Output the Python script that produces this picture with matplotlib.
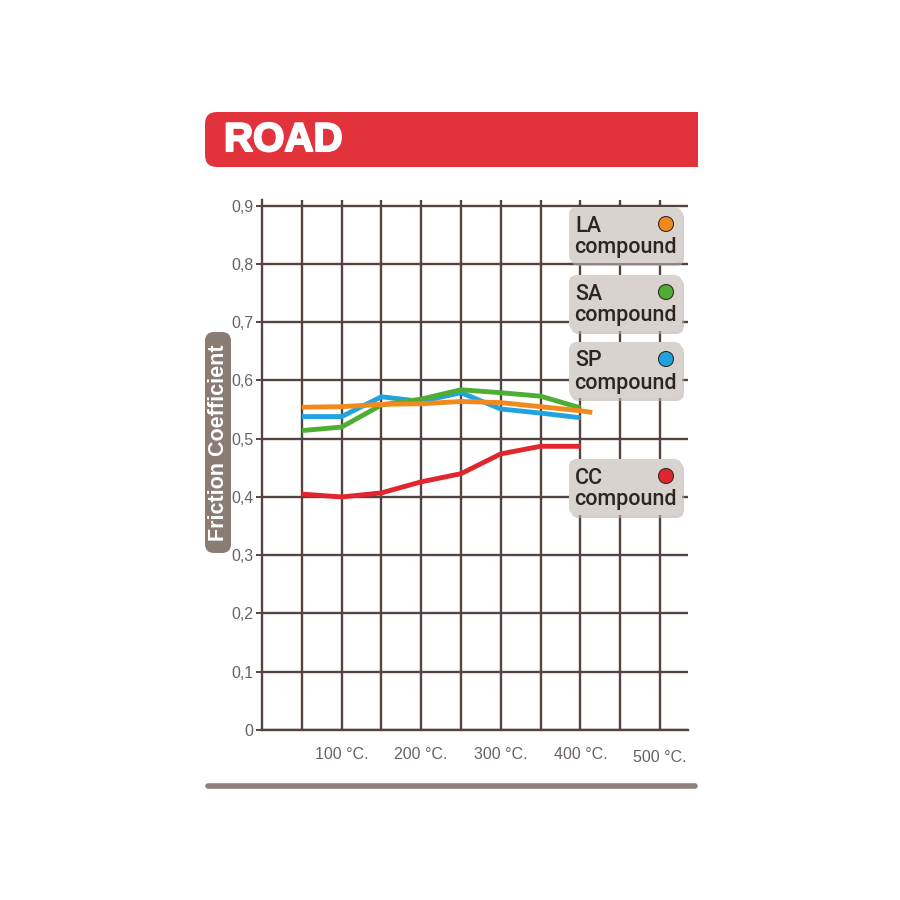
import matplotlib
matplotlib.use("Agg")
import matplotlib.pyplot as plt
from matplotlib.patches import FancyBboxPatch, Rectangle, Circle
from matplotlib.lines import Line2D
import matplotlib.patheffects as pe

# ---- data ----
temps = [50, 100, 150, 200, 250, 300, 350, 400]
temps_la = [50, 100, 150, 200, 250, 300, 350, 400, 415]
la_values = [0.554, 0.555, 0.559, 0.560, 0.564, 0.562, 0.555, 0.548, 0.545]
sa_values = [0.514, 0.520, 0.558, 0.568, 0.584, 0.579, 0.573, 0.553]
sp_values = [0.538, 0.538, 0.572, 0.564, 0.579, 0.551, 0.544, 0.536]
cc_values = [0.405, 0.400, 0.407, 0.426, 0.440, 0.474, 0.487, 0.487]
y_ticks = [0, 0.1, 0.2, 0.3, 0.4, 0.5, 0.6, 0.7, 0.8, 0.9]
y_labels = ["0", "0,1", "0,2", "0,3", "0,4", "0,5", "0,6", "0,7", "0,8", "0,9"]
x_grid = [50, 100, 150, 200, 250, 300, 350, 400, 450, 500]
x_labels = ["", "100 °C.", "", "200 °C.", "", "300 °C.", "", "400 °C.", "", "500 °C."]
legend_names = ["LA", "SA", "SP", "CC"]
title = "ROAD"
ylabel = "Friction Coefficient"

colors = {"LA": "#F08A1E", "SA": "#4EAE34", "SP": "#21A3DF", "CC": "#E2262E"}
grid_c = "#54443F"

W = H = 900
fig = plt.figure(figsize=(9, 9), dpi=100)
fig.patch.set_facecolor("white")

def fx(px):
    return px / W

def fy(py):
    return 1 - py / H

# axes placement
ax_l, ax_r, ax_b, ax_t = 262, 688, 730, 200
ax = fig.add_axes([fx(ax_l), fy(ax_b), fx(ax_r - ax_l), (ax_b - ax_t) / H])
ax.set_facecolor("none")
px_per_deg = (660 - 262) / 500.0
px_per_unit = (730 - 205.7) / 0.9
ax.set_xlim(0, (ax_r - ax_l) / px_per_deg)
ax.set_ylim(0, (ax_b - ax_t) / px_per_unit)

for s in ["top", "right"]:
    ax.spines[s].set_visible(False)
for s in ["left", "bottom"]:
    ax.spines[s].set_color(grid_c)
    ax.spines[s].set_linewidth(1.7)

ax.set_xticks(x_grid)
ax.set_xticklabels(x_labels)
ax.set_yticks(y_ticks)
ax.set_yticklabels(y_labels)
ax.tick_params(axis="x", length=0, pad=12, labelsize=11.5, labelcolor="#6A6260")
ax.tick_params(axis="y", length=4, width=1.4, color=grid_c, pad=2,
               labelsize=11.5, labelcolor="#6A6260")
for lab in ax.get_xticklabels() + ax.get_yticklabels():
    lab.set_fontfamily("Liberation Sans")
ax.get_xticklabels()[-1].set_y(-0.006)
ax.grid(True, color=grid_c, linewidth=1.7)
ax.set_axisbelow(True)

lw = 3.5
ax.plot(temps, cc_values, color=colors["CC"], lw=lw, solid_capstyle="butt", zorder=3)
ax.plot(temps, sp_values, color=colors["SP"], lw=lw, solid_capstyle="butt", zorder=4)
ax.plot(temps, sa_values, color=colors["SA"], lw=lw, solid_capstyle="butt", zorder=5)
ax.plot(temps_la, la_values, color=colors["LA"], lw=lw, solid_capstyle="butt", zorder=6)

# title bar
rad = 12
fig.add_artist(FancyBboxPatch((fx(205), fy(167)), fx(698 - 205), (167 - 112) / H,
                              boxstyle=f"round,pad=0,rounding_size={rad / W}",
                              transform=fig.transFigure, fc="#E2323C", ec="none", zorder=1))
fig.add_artist(Rectangle((fx(400), fy(167)), fx(698 - 400), (167 - 112) / H,
                         transform=fig.transFigure, fc="#E2323C", ec="none", zorder=1))
fig.text(fx(224), fy(140), title, color="white", fontsize=29, fontweight="bold",
         family="Liberation Sans", ha="left", va="center", zorder=2,
         path_effects=[pe.withStroke(linewidth=1.5, foreground="white")])

# y label box
fig.add_artist(FancyBboxPatch((fx(205), fy(553)), fx(231 - 205), (553 - 332) / H,
                              boxstyle=f"round,pad=0,rounding_size={9 / W}",
                              transform=fig.transFigure, fc="#8A7B73", ec="none", zorder=1))
fig.text(fx(218.5), fy(443), ylabel, rotation=90, color="white", fontsize=15.5,
         fontweight="bold", family="Liberation Sans", ha="center", va="center", zorder=2)

# legend boxes
box_tops = [207, 275, 342, 459]
bx0, bx1, bh = 569, 682, 56
for name, top in zip(legend_names, box_tops):
    fig.add_artist(FancyBboxPatch((fx(bx0 + 2), fy(top + bh + 3)), fx(bx1 - bx0), bh / H,
                                  boxstyle=f"round,pad=0,rounding_size={8 / W}",
                                  transform=fig.transFigure, fc="#B9B1AC", ec="none",
                                  alpha=0.6, zorder=10))
    fig.add_artist(FancyBboxPatch((fx(bx0), fy(top + bh)), fx(bx1 - bx0), bh / H,
                                  boxstyle=f"round,pad=0,rounding_size={8 / W}",
                                  transform=fig.transFigure, fc="#D8D3CF", ec="none",
                                  zorder=11))
    fig.text(fx(575), fy(top + 19), name, color="#2B2523", fontsize=15.5,
             family="Roboto", fontweight="medium", ha="left", va="center", zorder=12)
    fig.text(fx(574), fy(top + 41), "compound", color="#2B2523", fontsize=15.5,
             family="Roboto", fontweight="medium", ha="left", va="center", zorder=12)
    fig.add_artist(Circle((fx(666), fy(top + 17)), 7.5 / W, transform=fig.transFigure,
                          fc=colors[name], ec="#3A2A25", lw=0.8, zorder=12))

# bottom rule
fig.add_artist(Line2D([fx(208), fx(695)], [fy(786), fy(786)], transform=fig.transFigure,
                      color="#8D817B", lw=4, solid_capstyle="round"))

fig.savefig("out.png", dpi=100)
